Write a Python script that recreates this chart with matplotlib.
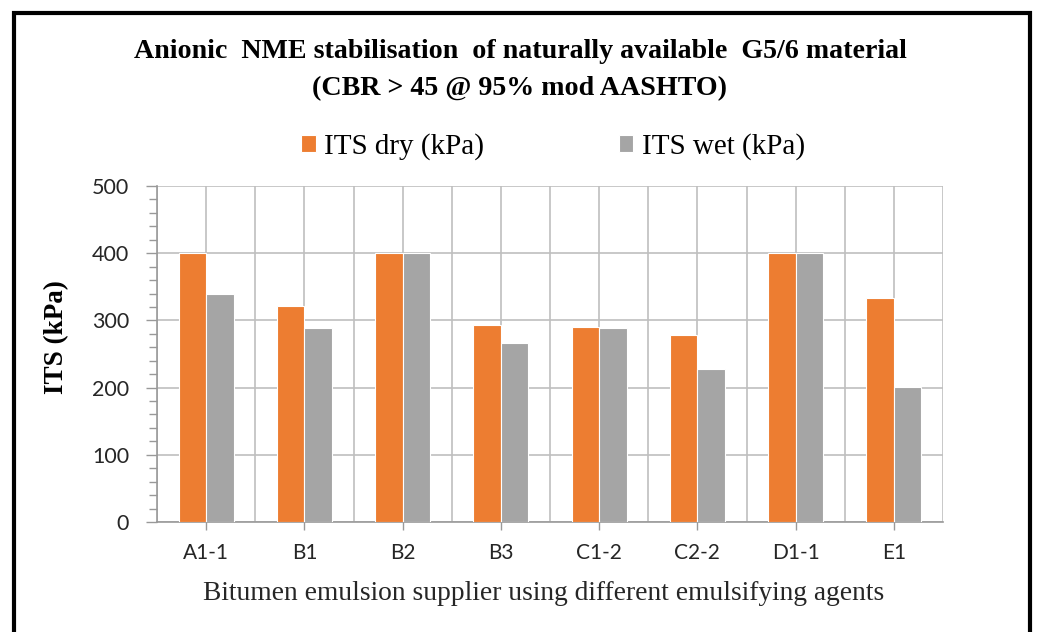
import matplotlib
matplotlib.use("Agg")
import matplotlib.pyplot as plt
from matplotlib.patches import Rectangle
from matplotlib.ticker import MultipleLocator
import numpy as np

categories = ["A1-1", "B1", "B2", "B3", "C1-2", "C2-2", "D1-1", "E1"]
its_dry = [400, 322, 400, 293, 290, 279, 400, 333]
its_wet = [340, 288, 400, 267, 288, 227, 400, 201]
series_names = ["ITS dry (kPa)", "ITS wet (kPa)"]
title = "Anionic  NME stabilisation  of naturally available  G5/6 material\n(CBR > 45 @ 95% mod AASHTO)"
xlabel = "Bitumen emulsion supplier using different emulsifying agents"
ylabel = "ITS (kPa)"

W, H = 1040, 632
fig = plt.figure(figsize=(W / 100, H / 100), dpi=100)
serif = ["Liberation Serif", "DejaVu Serif"]
sans = ["Lato", "DejaVu Sans"]

ax = fig.add_axes([157 / W, 1 - 522 / H, (943 - 157) / W, (522 - 186) / H])
x = np.arange(len(categories))
bw = 0.28
orange = "#ED7D31"
gray = "#A5A5A5"
ax.bar(x - bw / 2, its_dry, bw, color=orange, edgecolor="white", linewidth=0.8, label=series_names[0], zorder=3)
ax.bar(x + bw / 2, its_wet, bw, color=gray, edgecolor="white", linewidth=0.8, label=series_names[1], zorder=3)

ax.set_xlim(-0.5, len(categories) - 0.5)
ax.set_ylim(0, 500)
ax.yaxis.set_major_locator(MultipleLocator(100))
ax.yaxis.set_minor_locator(MultipleLocator(20))
ax.set_xticks(x)
ax.set_xticks(np.arange(len(categories) + 1) - 0.5, minor=True)
ax.set_xticklabels(categories, fontfamily=sans, fontsize=15, color="#262626")
ax.tick_params(axis="y", which="major", labelsize=15.5, labelcolor="#262626", length=8, width=1,
               color="#999999", direction="out", pad=12)
ax.tick_params(axis="y", which="minor", length=6, width=1, color="#999999", direction="out")
ax.tick_params(axis="x", which="major", length=6, width=1, color="#999999", direction="out", pad=9)
ax.tick_params(axis="x", which="minor", length=0)
for lab in ax.get_yticklabels():
    lab.set_fontfamily(sans)

ax.grid(True, which="major", axis="both", color="#BFBFBF", linewidth=1.2, zorder=0)
ax.grid(True, which="minor", axis="x", color="#BFBFBF", linewidth=1.2, zorder=0)
for side in ["top", "right"]:
    ax.spines[side].set_visible(False)
ax.spines["left"].set_color("#999999")
ax.spines["bottom"].set_color("#999999")
ax.spines["left"].set_linewidth(1.2)
ax.spines["bottom"].set_linewidth(1.2)

ax.set_xlabel(xlabel, fontfamily=serif, fontsize=19.8, color="#262626", labelpad=13)
ax.xaxis.label.set_x((543.5 - 157) / (943 - 157))
ax.set_ylabel(ylabel, fontfamily=serif, fontsize=19.5, fontweight="bold", color="black")
ax.yaxis.set_label_coords(-88 / (943 - 157), 0.549)

fig.text(0.5, 1 - 70 / H, title, ha="center", va="center", fontfamily=serif, fontsize=20.2,
         fontweight="bold", linespacing=1.6)

leg = fig.legend(loc="center", bbox_to_anchor=(553 / W, 1 - 147 / H), ncol=2, frameon=False,
                 prop={"family": serif, "size": 21}, handlelength=0.5, handleheight=0.5,
                 columnspacing=4.6, handletextpad=0.3)

fig.patches.append(Rectangle((14 / W, -0.1), (1030 - 14) / W, 1.1 - 13 / H, transform=fig.transFigure,
                             fill=False, edgecolor="black", linewidth=3))

fig.savefig("out.png", dpi=100)
